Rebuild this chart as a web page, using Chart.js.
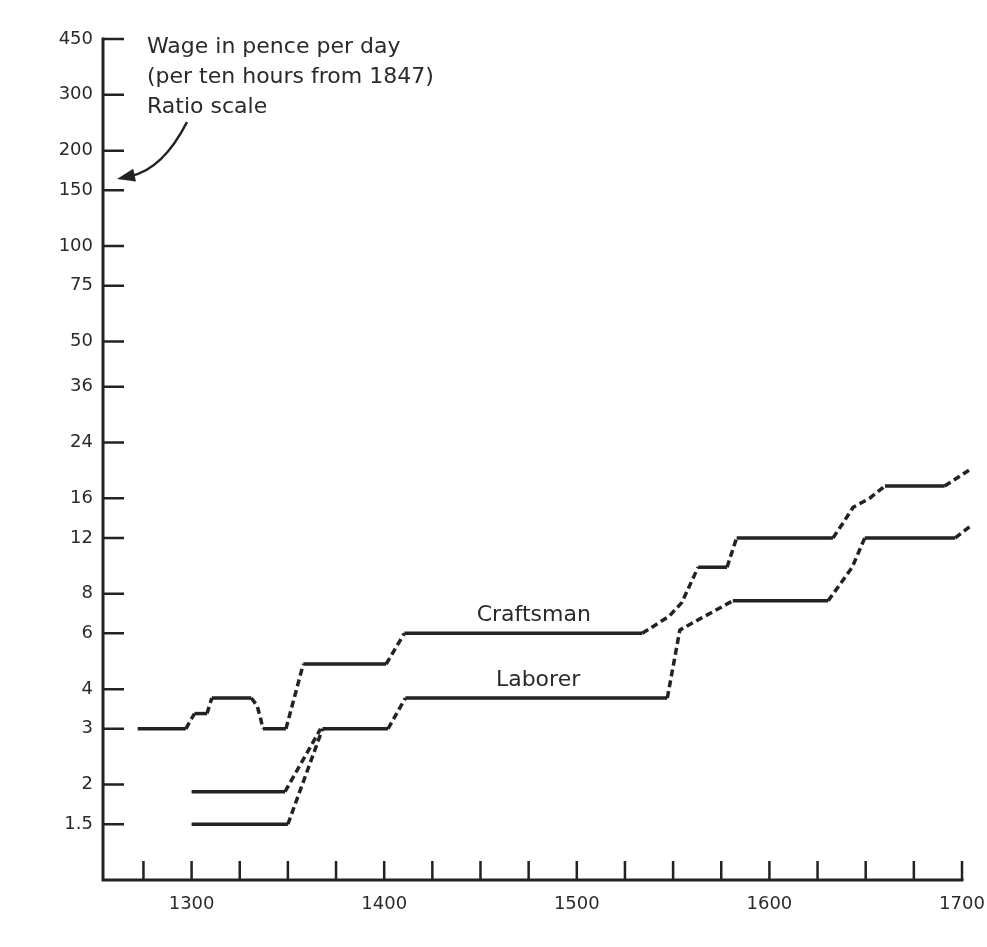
<!DOCTYPE html>
<html>
<head>
<meta charset="utf-8">
<script src="https://cdn.jsdelivr.net/npm/chart.js@4"></script>
<style>
  html, body { margin: 0; padding: 0; background: #ffffff; }
  canvas { display: block; }
</style>
</head>
<body>
<canvas id="chart" width="987" height="947"></canvas>
<script>
// ---- Data ----
const yTickValues = [1.5, 2, 3, 4, 6, 8, 12, 16, 24, 36, 50, 75, 100, 150, 200, 300, 450];
const xTickYears = [1275, 1300, 1325, 1350, 1375, 1400, 1425, 1450, 1475, 1500, 1525, 1550, 1575, 1600, 1625, 1650, 1675, 1700];
const xLabelYears = [1300, 1400, 1500, 1600, 1700];

const craftsmanYears = [1272, 1297, 1301.5, 1308, 1310.5, 1331, 1334, 1336, 1337, 1349, 1358, 1401, 1410.5, 1534, 1548, 1554.5, 1563, 1578, 1583, 1633, 1638, 1643.5, 1652, 1660, 1691, 1704];
const craftsmanWages = [3, 3, 3.35, 3.35, 3.75, 3.75, 3.55, 3.2, 3, 3, 4.8, 4.8, 6, 6, 6.8, 7.5, 9.7, 9.7, 12, 12, 13.3, 15, 16, 17.5, 17.5, 19.7];

const laborerYears = [1300, 1350, 1368, 1402, 1411, 1547, 1553.5, 1581, 1630.5, 1643, 1649.5, 1696.5, 1704.5];
const laborerWages = [1.5, 1.5, 3, 3, 3.75, 3.75, 6.15, 7.6, 7.6, 9.7, 12, 12, 13.1];

const laborerAltYears = [1300, 1348.5, 1367];
const laborerAltWages = [1.9, 1.9, 3];

const titleLines = ['Wage in pence per day', '(per ten hours from 1847)', 'Ratio scale'];
const seriesNames = ['Craftsman', 'Laborer'];

// ---- Helpers ----
const toPoints = (xs, ys) => xs.map((x, i) => ({ x: x, y: ys[i] }));
const INK = '#222222';
const TEXT = '#2a2a2a';
const FONT = '"DejaVu Sans", "Liberation Sans", sans-serif';

function lineDataset(label, xs, ys) {
  return {
    label: label,
    data: toPoints(xs, ys),
    borderColor: INK,
    borderWidth: 3.5,
    pointRadius: 0,
    fill: false,
    tension: 0,
    clip: false,
    borderJoinStyle: 'round',
    segment: {
      borderDash: ctx => (ctx.p0.parsed.y !== ctx.p1.parsed.y ? [7, 4] : undefined)
    }
  };
}

const decorations = {
  id: 'decorations',
  beforeDatasetsDraw(chart) {
    const { ctx, chartArea: a, scales } = chart;
    const xs = scales.x, ys = scales.y;
    ctx.save();
    // axes
    ctx.strokeStyle = INK;
    ctx.lineWidth = 3;
    ctx.lineCap = 'square';
    ctx.beginPath();
    ctx.moveTo(a.left, a.top);
    ctx.lineTo(a.left, a.bottom);
    ctx.lineTo(a.right, a.bottom);
    ctx.stroke();
    // inward tick marks
    ctx.lineWidth = 2.5;
    ctx.lineCap = 'butt';
    ctx.beginPath();
    ys.ticks.forEach(t => {
      const p = ys.getPixelForValue(t.value);
      ctx.moveTo(a.left, p);
      ctx.lineTo(a.left + 21, p);
    });
    xs.ticks.forEach(t => {
      const p = xs.getPixelForValue(t.value);
      ctx.moveTo(p, a.bottom);
      ctx.lineTo(p, a.bottom - 19);
    });
    ctx.stroke();

    // axis title text
    ctx.fillStyle = TEXT;
    ctx.font = '22px ' + FONT;
    ctx.textAlign = 'left';
    ctx.textBaseline = 'alphabetic';
    titleLines.forEach((s, i) => ctx.fillText(s, a.left + 44, a.top + 14 + i * 30));

    // curved arrow pointing at the axis
    const p0 = { x: a.left + 84, y: a.top + 83 };
    const c = { x: a.left + 60, y: a.top + 130 };
    const tip = { x: a.left + 14, y: a.top + 140 };
    let dx = tip.x - c.x, dy = tip.y - c.y;
    const len = Math.hypot(dx, dy);
    dx /= len; dy /= len;
    const headLen = 18, headW = 6.5;
    const base = { x: tip.x - dx * headLen, y: tip.y - dy * headLen };
    ctx.strokeStyle = INK;
    ctx.lineWidth = 2.5;
    ctx.beginPath();
    ctx.moveTo(p0.x, p0.y);
    ctx.quadraticCurveTo(c.x, c.y, base.x + dx * 4, base.y + dy * 4);
    ctx.stroke();
    ctx.fillStyle = INK;
    ctx.beginPath();
    ctx.moveTo(tip.x, tip.y);
    ctx.lineTo(base.x - dy * headW, base.y + dx * headW);
    ctx.lineTo(base.x + dy * headW, base.y - dx * headW);
    ctx.closePath();
    ctx.fill();

    // series labels, anchored in data coordinates just above their lines
    ctx.fillStyle = TEXT;
    ctx.font = '22px ' + FONT;
    ctx.textAlign = 'left';
    ctx.fillText(seriesNames[0], xs.getPixelForValue(1448), ys.getPixelForValue(6) - 12);
    ctx.fillText(seriesNames[1], xs.getPixelForValue(1458), ys.getPixelForValue(3.75) - 12);
    ctx.restore();
  }
};

new Chart(document.getElementById('chart'), {
  type: 'line',
  data: {
    datasets: [
      lineDataset(seriesNames[0], craftsmanYears, craftsmanWages),
      lineDataset(seriesNames[1], laborerYears, laborerWages),
      lineDataset(seriesNames[1] + ' (alt.)', laborerAltYears, laborerAltWages)
    ]
  },
  options: {
    responsive: false,
    animation: false,
    devicePixelRatio: 1,
    layout: { padding: { top: 39, right: 25, left: 0, bottom: 0 } },
    plugins: { legend: { display: false }, tooltip: { enabled: false } },
    scales: {
      x: {
        type: 'linear',
        min: 1254,
        max: 1700,
        grid: { display: false, drawTicks: false },
        border: { display: false },
        afterBuildTicks: s => { s.ticks = xTickYears.map(v => ({ value: v })); },
        afterFit: s => { s.height = 67; s.paddingLeft = 0; s.paddingRight = 0; },
        ticks: {
          autoSkip: false,
          maxRotation: 0,
          padding: 14,
          color: TEXT,
          font: { family: FONT, size: 18 },
          callback: v => (xLabelYears.includes(v) ? String(v) : '')
        }
      },
      y: {
        type: 'logarithmic',
        min: 1,
        max: 450,
        grid: { display: false, drawTicks: false },
        border: { display: false },
        afterBuildTicks: s => { s.ticks = yTickValues.map(v => ({ value: v })); },
        afterFit: s => { s.width = 103; s.paddingTop = 0; s.paddingBottom = 0; },
        ticks: {
          autoSkip: false,
          padding: 10,
          color: TEXT,
          font: { family: FONT, size: 18 },
          callback: v => (yTickValues.includes(v) ? String(v) : '')
        }
      }
    }
  },
  plugins: [decorations]
});
</script>
</body>
</html>
